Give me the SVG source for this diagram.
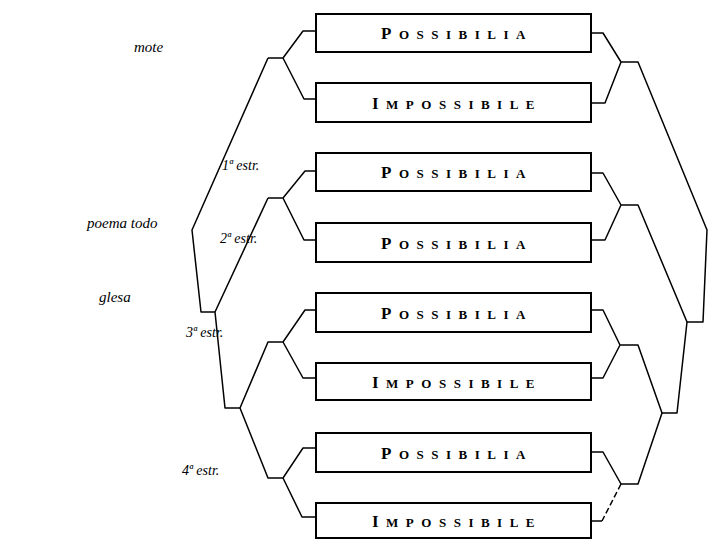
<svg xmlns="http://www.w3.org/2000/svg" width="711" height="539" viewBox="0 0 711 539">
<style>
.box{fill:#fff;stroke:#000;stroke-width:2}
.t{font-family:"Liberation Serif",serif;font-weight:bold;font-size:13px;letter-spacing:7.5px;fill:#000}
.big{font-size:17px}
.hand{font-family:"Liberation Serif",serif;font-style:italic;font-size:15px;fill:#000}
.s{font-size:14px}
.c{fill:none;stroke:#000;stroke-width:1.5;stroke-linejoin:round}
</style>
<rect width="711" height="539" fill="#fff"/>
<g id="connectors">
<path class="c" d="M316,31 L303,31 L283,58 L268,58 M283,58 L304,99 L316,99"/>
<path class="c" d="M268,58 L192,230 L201,312 L215,312"/>
<path class="c" d="M316,171 L305,171 L283,198 L268,198 M283,198 L304,240 L316,240"/>
<path class="c" d="M268,198 L215,312 L225,408 L240,408"/>
<path class="c" d="M240,408 L268,342 L283,342 L305,310 L316,310 M283,342 L303,378 L316,378"/>
<path class="c" d="M240,408 L268,478 L283,478 L303,448 L316,448 M283,478 L302,517 L316,517"/>
<path class="c" d="M591,33 L603,33 L621,62 L638,62 L707,230 L703,322 L687,322 M621,62 L605,103 L591,103"/>
<path class="c" d="M591,173 L603,173 L621,205 L638,205 L687,322 L677,413 L662,413 M621,205 L605,240 L591,240"/>
<path class="c" d="M591,310 L603,310 L620,345 L638,345 L662,413 L638,484 L621,484 L603,452 L591,452 M620,345 L603,378 L591,378"/>
<path class="c" d="M621,484 L602,521" stroke-dasharray="6,3" stroke-width="1"/>
<path class="c" d="M602,521 L591,521"/>
</g>
<g id="n1"><rect class="box" x="316" y="14" width="275" height="38"/><text class="t" x="457" y="39" text-anchor="middle"><tspan class="big">P</tspan>OSSIBILIA</text></g>
<g id="n2"><rect class="box" x="316" y="83" width="275" height="39"/><text class="t" x="457" y="109" text-anchor="middle"><tspan class="big">I</tspan>MPOSSIBILE</text></g>
<g id="n3"><rect class="box" x="316" y="153" width="275" height="38"/><text class="t" x="457" y="178" text-anchor="middle"><tspan class="big">P</tspan>OSSIBILIA</text></g>
<g id="n4"><rect class="box" x="316" y="223" width="275" height="39"/><text class="t" x="457" y="249" text-anchor="middle"><tspan class="big">P</tspan>OSSIBILIA</text></g>
<g id="n5"><rect class="box" x="316" y="293" width="275" height="39"/><text class="t" x="457" y="319" text-anchor="middle"><tspan class="big">P</tspan>OSSIBILIA</text></g>
<g id="n6"><rect class="box" x="316" y="363" width="275" height="37"/><text class="t" x="457" y="388" text-anchor="middle"><tspan class="big">I</tspan>MPOSSIBILE</text></g>
<g id="n7"><rect class="box" x="316" y="433" width="275" height="39"/><text class="t" x="457" y="459" text-anchor="middle"><tspan class="big">P</tspan>OSSIBILIA</text></g>
<g id="n8"><rect class="box" x="316" y="503" width="275" height="35"/><text class="t" x="457" y="527" text-anchor="middle"><tspan class="big">I</tspan>MPOSSIBILE</text></g>
<g id="labels">
<text class="hand" x="134" y="52">mote</text>
<text class="hand" x="87" y="228">poema todo</text>
<text class="hand" x="99" y="302">glesa</text>
<text class="hand s" x="222" y="170">1ª estr.</text>
<text class="hand s" x="220" y="243">2ª estr.</text>
<text class="hand s" x="186" y="337">3ª estr.</text>
<text class="hand s" x="182" y="475">4ª estr.</text>
</g>
</svg>
